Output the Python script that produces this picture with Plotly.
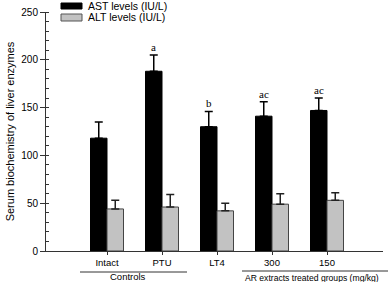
import plotly.graph_objects as go

groups = ["Intact", "PTU", "LT4", "300", "150"]
ast_mean = [118, 188, 130, 141, 147]
ast_err = [17, 17, 16, 15, 13]
alt_mean = [44, 46, 42, 49, 53]
alt_err = [9, 13, 8, 11, 8]
ast_letters = ["", "a", "b", "ac", "ac"]
series_names = ["AST levels (IU/L)", "ALT levels (IU/L)"]
y_ticks = [0, 50, 100, 150, 200, 250]

W, H = 388, 282
L, R, T, B = 46, 5, 12, 31
PW, PH = W - L - R, H - T - B


def px(x):
    return (x - L) / PW


def py(y):
    return (H - B - y) / PH


fig = go.Figure()
fig.add_trace(go.Bar(
    x=groups, y=ast_mean, name=series_names[0],
    marker=dict(color="black", line=dict(color="black", width=1)),
    error_y=dict(type="data", array=ast_err, arrayminus=[0] * len(ast_err), symmetric=False,
                 color="black", thickness=1.5, width=4),
    showlegend=False,
))
fig.add_trace(go.Bar(
    x=groups, y=alt_mean, name=series_names[1],
    marker=dict(color="#c2c2c2", line=dict(color="#444444", width=1)),
    error_y=dict(type="data", array=alt_err, arrayminus=[0] * len(alt_err), symmetric=False,
                 color="#222222", thickness=1.5, width=4),
    showlegend=False,
))

# significance letters above AST bars (category index positions)
for i, (m, e, t) in enumerate(zip(ast_mean, ast_err, ast_letters)):
    if t:
        fig.add_annotation(x=i, y=m + e, text=t, xref="x", yref="y", showarrow=False,
                           xshift=-8.5, yshift=0, yanchor="bottom",
                           font=dict(family="Liberation Serif, Times New Roman, serif", size=11, color="black"))

# legend (drawn manually)
leg = [("black", "black", 3, 9, 6), ("#c2c2c2", "#555555", 14, 21, 17.5)]
for (fc, lc, y0, y1, yc), name in zip(leg, series_names):
    fig.add_shape(type="rect", xref="paper", yref="paper",
                  x0=px(61), x1=px(82), y0=py(y1), y1=py(y0),
                  fillcolor=fc, line=dict(color=lc, width=1))
    fig.add_annotation(xref="paper", yref="paper", x=px(86), y=py(yc), text=name,
                       showarrow=False, xanchor="left", yanchor="middle",
                       font=dict(family="Liberation Sans, Arial, sans-serif", size=10.5, color="black"))

# group brackets under the axis
fig.add_shape(type="line", xref="paper", yref="paper", x0=px(80), x1=px(187), y0=py(272), y1=py(272),
              line=dict(color="#333333", width=1))
fig.add_shape(type="line", xref="paper", yref="paper", x0=px(242), x1=px(390), y0=py(271), y1=py(271),
              line=dict(color="#333333", width=1))
fig.add_annotation(xref="paper", yref="paper", x=px(128), y=py(276.5), text="Controls", showarrow=False,
                   xanchor="center", yanchor="middle",
                   font=dict(family="Liberation Sans, Arial, sans-serif", size=9.5, color="black"))
fig.add_annotation(xref="paper", yref="paper", x=px(243), y=py(278), text="AR extracts treated groups (mg/kg)",
                   showarrow=False, xanchor="left", yanchor="middle",
                   font=dict(family="Liberation Sans, Arial, sans-serif", size=8.6, color="black"))

fig.update_layout(
    width=W, height=H,
    margin=dict(l=L, r=R, t=T, b=B),
    paper_bgcolor="white", plot_bgcolor="white",
    barmode="group", bargap=0.4, bargroupgap=0,
    font=dict(family="Liberation Sans, Arial, sans-serif", size=10, color="black"),
)
fig.update_xaxes(
    type="category",
    range=[(L - 107) / 55, (W - R - 107) / 55],
    showline=True, linecolor="#333333", linewidth=1,
    ticks="outside", ticklen=3, tickcolor="#333333",
    showgrid=False, zeroline=False,
    tickfont=dict(size=9.5),
)
fig.update_yaxes(
    range=[0, 250], tickvals=y_ticks,
    showline=True, linecolor="#333333", linewidth=1,
    ticks="outside", ticklen=5, tickcolor="#333333",
    minor=dict(ticks="inside", dtick=10, ticklen=3, tickcolor="#333333", showgrid=False),
    showgrid=False, zeroline=False,
    tickfont=dict(size=10),
    title=dict(text="Serum biochemistry of liver enzymes", font=dict(size=11), standoff=4),
)

fig.write_html("out.html")
